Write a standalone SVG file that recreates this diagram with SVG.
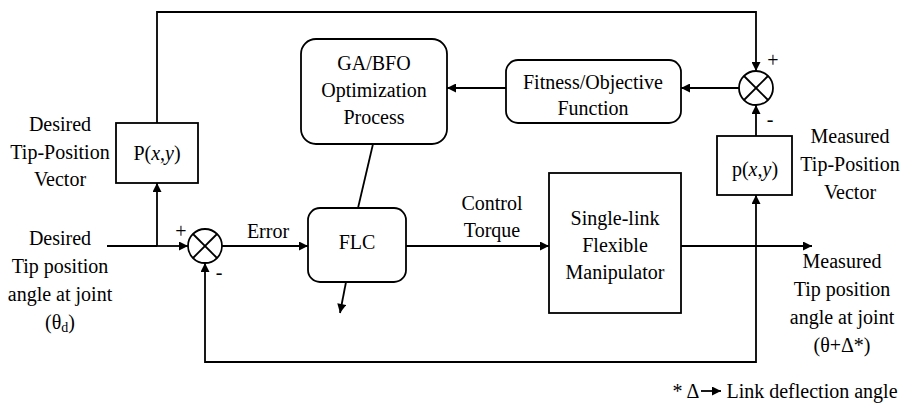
<svg xmlns="http://www.w3.org/2000/svg" width="907" height="405" viewBox="0 0 907 405">
<style>
.t{font-family:'Times New Roman','Liberation Serif',Tinos,serif;font-size:20px;text-anchor:middle;fill:#000}
.box{fill:#fff;stroke:#000;stroke-width:1.8}
.ln{fill:none;stroke:#000;stroke-width:1.8}
.arr{fill:none;stroke:#000;stroke-width:1.8;marker-end:url(#ah)}
</style>
<defs>
<marker id="ah" viewBox="0 0 10 10" refX="10" refY="5" markerWidth="10" markerHeight="9" markerUnits="userSpaceOnUse" orient="auto">
<path d="M0,0 L10,5 L0,10 Z" fill="#000"/>
</marker>
</defs>
<g id="connectors">
<polyline class="arr" points="157,123 157,12 756,12 756,71"/>
<line class="ln" x1="107" y1="246" x2="157" y2="246"/>
<line class="arr" x1="157" y1="246" x2="157" y2="183"/>
<line class="arr" x1="157" y1="246" x2="188" y2="246"/>
<line class="arr" x1="222" y1="246" x2="308" y2="246"/>
<line class="arr" x1="406" y1="246" x2="549" y2="246"/>
<line class="arr" x1="681" y1="246" x2="812" y2="246"/>
<polyline class="arr" points="756,246 756,362 205,362 205,263"/>
<line class="arr" x1="756" y1="246" x2="756" y2="195"/>
<line class="arr" x1="756" y1="136" x2="756" y2="105"/>
<line class="arr" x1="739" y1="88" x2="681" y2="88"/>
<line class="arr" x1="506" y1="88" x2="447" y2="88"/>
<line class="ln" x1="373" y1="144" x2="358" y2="208"/>
<line class="arr" x1="346" y1="282" x2="340" y2="313"/>
</g>
<g id="sum1">
<circle class="box" cx="205" cy="246" r="17"/>
<line class="ln" x1="193" y1="234" x2="217" y2="258"/>
<line class="ln" x1="217" y1="234" x2="193" y2="258"/>
<text class="t" x="181" y="238">+</text>
<text class="t" x="219" y="279">-</text>
</g>
<g id="sum2">
<circle class="box" cx="756" cy="88" r="17"/>
<line class="ln" x1="744" y1="76" x2="768" y2="100"/>
<line class="ln" x1="768" y1="76" x2="744" y2="100"/>
<text class="t" x="773" y="67">+</text>
<text class="t" x="770" y="126">-</text>
</g>
<g id="P">
<rect class="box" x="116" y="123" width="82" height="60"/>
<text class="t" x="157" y="160">P(<tspan font-style="italic">x</tspan>,<tspan font-style="italic">y</tspan>)</text>
</g>
<g id="pm">
<rect class="box" x="717" y="136" width="75" height="59"/>
<text class="t" x="755" y="176">p(<tspan font-style="italic">x</tspan>,<tspan font-style="italic">y</tspan>)</text>
</g>
<g id="GA">
<rect class="box" x="301" y="39" width="146" height="105" rx="15"/>
<text class="t" x="374" y="70">GA/BFO</text>
<text class="t" x="374" y="97">Optimization</text>
<text class="t" x="374" y="124">Process</text>
</g>
<g id="fitness">
<rect class="box" x="506" y="60" width="175" height="63" rx="12"/>
<text class="t" x="593" y="89">Fitness/Objective</text>
<text class="t" x="593" y="115">Function</text>
</g>
<g id="FLC">
<rect class="box" x="308" y="208" width="98" height="74" rx="12"/>
<text class="t" x="357" y="249">FLC</text>
</g>
<g id="plant">
<rect class="box" x="549" y="173" width="132" height="140"/>
<text class="t" x="615" y="225">Single-link</text>
<text class="t" x="615" y="252">Flexible</text>
<text class="t" x="615" y="279">Manipulator</text>
</g>
<g id="labels">
<text class="t" x="60" y="131">Desired</text>
<text class="t" x="60" y="159">Tip-Position</text>
<text class="t" x="60" y="186">Vector</text>
<text class="t" x="60" y="245">Desired</text>
<text class="t" x="60" y="273">Tip position</text>
<text class="t" x="60" y="301">angle at joint</text>
<text class="t" x="60" y="329">(θ<tspan font-size="14" dy="3">d</tspan><tspan dy="-3">)</tspan></text>
<text class="t" x="268" y="238">Error</text>
<text class="t" x="492" y="210">Control</text>
<text class="t" x="492" y="237">Torque</text>
<text class="t" x="850" y="143">Measured</text>
<text class="t" x="850" y="171">Tip-Position</text>
<text class="t" x="850" y="199">Vector</text>
<text class="t" x="842" y="268">Measured</text>
<text class="t" x="842" y="296">Tip position</text>
<text class="t" x="842" y="324">angle at joint</text>
<text class="t" x="842" y="352">(θ+Δ*)</text>
<text class="t" x="686" y="398">* Δ</text>
<text class="t" x="812" y="398">Link deflection angle</text>
<line x1="701" y1="391" x2="721" y2="391" stroke="#000" stroke-width="1.8" marker-end="url(#ah)"/>
</g>
</svg>
